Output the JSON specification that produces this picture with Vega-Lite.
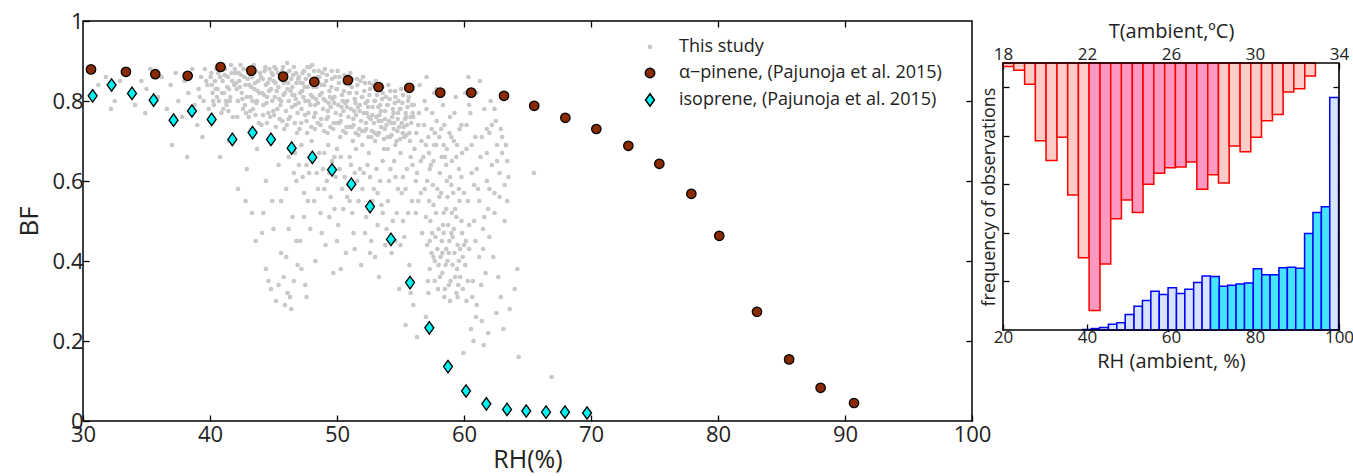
{
  "$schema": "https://vega.github.io/schema/vega-lite/v6.json",
  "padding": {"left": 15, "top": 9, "right": 0, "bottom": 0},
  "spacing": -12,
  "config": {
    "font": "Open Sans",
    "view": {"stroke": "#000", "strokeWidth": 1.5},
    "axis": {
      "domain": false,
      "grid": false,
      "tickColor": "#000",
      "tickWidth": 1.3,
      "tickSize": -6,
      "labelFlush": false,
      "labelColor": "#222",
      "titleColor": "#222",
      "titleFontWeight": "normal",
      "labelFont": "Open Sans",
      "titleFont": "Open Sans"
    }
  },
  "datasets": {
    "study": [
      {"rh":31.2,"bf":0.84},{"rh":31.8,"bf":0.86},{"rh":32.5,"bf":0.80},{"rh":32.9,"bf":0.85},{"rh":33.4,"bf":0.87},{"rh":33.8,"bf":0.82},
      {"rh":34.1,"bf":0.79},{"rh":34.6,"bf":0.85},{"rh":35.0,"bf":0.83},{"rh":35.3,"bf":0.88},{"rh":35.9,"bf":0.81},{"rh":36.2,"bf":0.86},
      {"rh":36.6,"bf":0.78},{"rh":36.9,"bf":0.84},{"rh":37.3,"bf":0.87},{"rh":37.5,"bf":0.80},{"rh":37.8,"bf":0.76},{"rh":38.0,"bf":0.85},
      {"rh":38.3,"bf":0.82},{"rh":38.6,"bf":0.88},{"rh":38.8,"bf":0.79},{"rh":39.0,"bf":0.74},{"rh":32.2,"bf":0.78},{"rh":34.9,"bf":0.77},
      {"rh":37.0,"bf":0.69},{"rh":39.4,"bf":0.71},{"rh":38.2,"bf":0.66},
      {"rh":39.1,"bf":0.83},{"rh":39.3,"bf":0.86},{"rh":39.5,"bf":0.80},{"rh":39.6,"bf":0.88},{"rh":39.8,"bf":0.84},{"rh":39.9,"bf":0.78},
      {"rh":39.2,"bf":0.81},{"rh":39.7,"bf":0.85},
      {"rh":40.1,"bf":0.87},{"rh":40.2,"bf":0.82},{"rh":40.3,"bf":0.79},{"rh":40.4,"bf":0.85},{"rh":40.5,"bf":0.88},{"rh":40.6,"bf":0.83},
      {"rh":40.7,"bf":0.80},{"rh":40.8,"bf":0.86},{"rh":40.9,"bf":0.77},{"rh":40.15,"bf":0.84},{"rh":40.55,"bf":0.81},{"rh":40.85,"bf":0.89},
      {"rh":40.05,"bf":0.86},{"rh":40.25,"bf":0.80},{"rh":40.45,"bf":0.83},{"rh":40.65,"bf":0.87},{"rh":40.95,"bf":0.82},
      {"rh":41.0,"bf":0.85},{"rh":41.1,"bf":0.82},{"rh":41.2,"bf":0.88},{"rh":41.3,"bf":0.79},{"rh":41.4,"bf":0.86},{"rh":41.5,"bf":0.83},
      {"rh":41.6,"bf":0.81},{"rh":41.7,"bf":0.87},{"rh":41.8,"bf":0.76},{"rh":41.9,"bf":0.84},{"rh":41.25,"bf":0.80},{"rh":41.65,"bf":0.89},
      {"rh":41.45,"bf":0.775},{"rh":41.05,"bf":0.78},{"rh":41.15,"bf":0.865},{"rh":41.35,"bf":0.835},{"rh":41.55,"bf":0.80},{"rh":41.75,"bf":0.85},
      {"rh":41.95,"bf":0.88},
      {"rh":42.0,"bf":0.87},{"rh":42.1,"bf":0.83},{"rh":42.2,"bf":0.80},{"rh":42.3,"bf":0.85},{"rh":42.4,"bf":0.89},{"rh":42.5,"bf":0.82},
      {"rh":42.6,"bf":0.78},{"rh":42.7,"bf":0.86},{"rh":42.8,"bf":0.84},{"rh":42.9,"bf":0.81},{"rh":42.15,"bf":0.76},{"rh":42.45,"bf":0.865},
      {"rh":42.75,"bf":0.79},{"rh":42.35,"bf":0.835},{"rh":42.05,"bf":0.845},{"rh":42.25,"bf":0.87},{"rh":42.55,"bf":0.805},{"rh":42.65,"bf":0.88},
      {"rh":42.85,"bf":0.77},{"rh":42.95,"bf":0.855},
      {"rh":43.0,"bf":0.88},{"rh":43.1,"bf":0.84},{"rh":43.2,"bf":0.81},{"rh":43.3,"bf":0.86},{"rh":43.4,"bf":0.78},{"rh":43.5,"bf":0.83},
      {"rh":43.6,"bf":0.875},{"rh":43.7,"bf":0.80},{"rh":43.8,"bf":0.85},{"rh":43.9,"bf":0.82},{"rh":43.05,"bf":0.76},{"rh":43.45,"bf":0.89},
      {"rh":43.65,"bf":0.795},{"rh":43.85,"bf":0.745},{"rh":43.25,"bf":0.835},{"rh":43.15,"bf":0.865},{"rh":43.35,"bf":0.80},{"rh":43.55,"bf":0.845},
      {"rh":43.75,"bf":0.825},{"rh":43.95,"bf":0.87},{"rh":43.18,"bf":0.775},{"rh":43.58,"bf":0.765},
      {"rh":44.0,"bf":0.86},{"rh":44.1,"bf":0.82},{"rh":44.2,"bf":0.79},{"rh":44.3,"bf":0.875},{"rh":44.4,"bf":0.84},{"rh":44.5,"bf":0.81},
      {"rh":44.6,"bf":0.77},{"rh":44.7,"bf":0.855},{"rh":44.8,"bf":0.83},{"rh":44.9,"bf":0.80},{"rh":44.05,"bf":0.74},{"rh":44.35,"bf":0.885},
      {"rh":44.55,"bf":0.845},{"rh":44.75,"bf":0.76},{"rh":44.85,"bf":0.87},{"rh":44.25,"bf":0.815},{"rh":44.15,"bf":0.855},{"rh":44.45,"bf":0.795},
      {"rh":44.65,"bf":0.825},{"rh":44.95,"bf":0.865},{"rh":44.18,"bf":0.765},{"rh":44.48,"bf":0.745},{"rh":44.98,"bf":0.775},{"rh":44.68,"bf":0.88},
      {"rh":45.0,"bf":0.85},{"rh":45.1,"bf":0.81},{"rh":45.2,"bf":0.88},{"rh":45.3,"bf":0.78},{"rh":45.4,"bf":0.835},{"rh":45.5,"bf":0.86},
      {"rh":45.6,"bf":0.80},{"rh":45.7,"bf":0.75},{"rh":45.8,"bf":0.845},{"rh":45.9,"bf":0.82},{"rh":45.05,"bf":0.765},{"rh":45.35,"bf":0.87},
      {"rh":45.55,"bf":0.79},{"rh":45.75,"bf":0.885},{"rh":45.85,"bf":0.73},{"rh":45.25,"bf":0.825},{"rh":45.65,"bf":0.855},{"rh":45.15,"bf":0.845},
      {"rh":45.45,"bf":0.805},{"rh":45.95,"bf":0.865},{"rh":45.18,"bf":0.735},{"rh":45.48,"bf":0.755},{"rh":45.98,"bf":0.775},{"rh":45.68,"bf":0.875},
      {"rh":45.08,"bf":0.885},{"rh":45.78,"bf":0.815},
      {"rh":46.0,"bf":0.87},{"rh":46.1,"bf":0.83},{"rh":46.2,"bf":0.80},{"rh":46.3,"bf":0.76},{"rh":46.4,"bf":0.855},{"rh":46.5,"bf":0.815},
      {"rh":46.6,"bf":0.885},{"rh":46.7,"bf":0.79},{"rh":46.8,"bf":0.845},{"rh":46.9,"bf":0.77},{"rh":46.05,"bf":0.74},{"rh":46.35,"bf":0.825},
      {"rh":46.55,"bf":0.865},{"rh":46.75,"bf":0.805},{"rh":46.85,"bf":0.72},{"rh":46.25,"bf":0.875},{"rh":46.45,"bf":0.785},{"rh":46.15,"bf":0.845},
      {"rh":46.48,"bf":0.835},{"rh":46.65,"bf":0.815},{"rh":46.95,"bf":0.855},{"rh":46.18,"bf":0.755},{"rh":46.68,"bf":0.745},{"rh":46.98,"bf":0.795},
      {"rh":46.08,"bf":0.895},{"rh":46.78,"bf":0.87},
      {"rh":47.0,"bf":0.86},{"rh":47.1,"bf":0.82},{"rh":47.2,"bf":0.78},{"rh":47.3,"bf":0.845},{"rh":47.4,"bf":0.875},{"rh":47.5,"bf":0.80},
      {"rh":47.6,"bf":0.75},{"rh":47.7,"bf":0.835},{"rh":47.8,"bf":0.865},{"rh":47.9,"bf":0.79},{"rh":47.05,"bf":0.73},{"rh":47.35,"bf":0.81},
      {"rh":47.55,"bf":0.855},{"rh":47.75,"bf":0.77},{"rh":47.85,"bf":0.885},{"rh":47.25,"bf":0.825},{"rh":47.65,"bf":0.72},{"rh":47.15,"bf":0.845},
      {"rh":47.45,"bf":0.835},{"rh":47.95,"bf":0.815},{"rh":47.18,"bf":0.745},{"rh":47.48,"bf":0.765},{"rh":47.98,"bf":0.735},{"rh":47.68,"bf":0.885},
      {"rh":47.28,"bf":0.87},{"rh":47.78,"bf":0.80},
      {"rh":48.0,"bf":0.85},{"rh":48.1,"bf":0.81},{"rh":48.2,"bf":0.875},{"rh":48.3,"bf":0.77},{"rh":48.4,"bf":0.835},{"rh":48.5,"bf":0.795},
      {"rh":48.6,"bf":0.86},{"rh":48.7,"bf":0.74},{"rh":48.8,"bf":0.82},{"rh":48.9,"bf":0.78},{"rh":48.05,"bf":0.89},{"rh":48.35,"bf":0.805},
      {"rh":48.55,"bf":0.845},{"rh":48.75,"bf":0.755},{"rh":48.85,"bf":0.87},{"rh":48.25,"bf":0.73},{"rh":48.65,"bf":0.815},{"rh":48.15,"bf":0.835},
      {"rh":48.45,"bf":0.86},{"rh":48.95,"bf":0.805},{"rh":48.18,"bf":0.76},{"rh":48.48,"bf":0.745},{"rh":48.98,"bf":0.725},{"rh":48.58,"bf":0.875},
      {"rh":48.28,"bf":0.79},{"rh":48.78,"bf":0.84},
      {"rh":49.0,"bf":0.84},{"rh":49.1,"bf":0.80},{"rh":49.2,"bf":0.865},{"rh":49.3,"bf":0.76},{"rh":49.4,"bf":0.825},{"rh":49.5,"bf":0.785},
      {"rh":49.6,"bf":0.855},{"rh":49.7,"bf":0.73},{"rh":49.8,"bf":0.81},{"rh":49.9,"bf":0.77},{"rh":49.05,"bf":0.88},{"rh":49.35,"bf":0.795},
      {"rh":49.55,"bf":0.835},{"rh":49.75,"bf":0.745},{"rh":49.85,"bf":0.86},{"rh":49.25,"bf":0.72},{"rh":49.65,"bf":0.805},{"rh":49.15,"bf":0.85},
      {"rh":49.45,"bf":0.81},{"rh":49.95,"bf":0.83},{"rh":49.18,"bf":0.755},{"rh":49.48,"bf":0.735},{"rh":49.98,"bf":0.745},{"rh":49.58,"bf":0.875},
      {"rh":49.28,"bf":0.775},{"rh":49.78,"bf":0.795},
      {"rh":50.0,"bf":0.83},{"rh":50.1,"bf":0.79},{"rh":50.2,"bf":0.86},{"rh":50.3,"bf":0.75},{"rh":50.4,"bf":0.815},{"rh":50.5,"bf":0.775},
      {"rh":50.6,"bf":0.845},{"rh":50.7,"bf":0.72},{"rh":50.8,"bf":0.80},{"rh":50.9,"bf":0.76},{"rh":50.05,"bf":0.875},{"rh":50.35,"bf":0.785},
      {"rh":50.55,"bf":0.825},{"rh":50.75,"bf":0.735},{"rh":50.85,"bf":0.855},{"rh":50.25,"bf":0.71},{"rh":50.65,"bf":0.795},{"rh":50.15,"bf":0.845},
      {"rh":50.45,"bf":0.80},{"rh":50.95,"bf":0.82},{"rh":50.18,"bf":0.745},{"rh":50.48,"bf":0.725},{"rh":50.98,"bf":0.735},{"rh":50.58,"bf":0.865},
      {"rh":50.28,"bf":0.765},{"rh":50.78,"bf":0.785},
      {"rh":51.0,"bf":0.82},{"rh":51.1,"bf":0.78},{"rh":51.2,"bf":0.855},{"rh":51.3,"bf":0.74},{"rh":51.4,"bf":0.805},{"rh":51.5,"bf":0.765},
      {"rh":51.6,"bf":0.84},{"rh":51.7,"bf":0.715},{"rh":51.8,"bf":0.79},{"rh":51.9,"bf":0.75},{"rh":51.05,"bf":0.87},{"rh":51.35,"bf":0.775},
      {"rh":51.55,"bf":0.82},{"rh":51.75,"bf":0.73},{"rh":51.85,"bf":0.85},{"rh":51.25,"bf":0.70},{"rh":51.65,"bf":0.785},{"rh":51.15,"bf":0.835},
      {"rh":51.45,"bf":0.795},{"rh":51.95,"bf":0.81},{"rh":51.18,"bf":0.735},{"rh":51.48,"bf":0.72},{"rh":51.98,"bf":0.725},{"rh":51.58,"bf":0.855},
      {"rh":51.28,"bf":0.755},{"rh":51.78,"bf":0.775},
      {"rh":52.0,"bf":0.81},{"rh":52.1,"bf":0.77},{"rh":52.2,"bf":0.845},{"rh":52.3,"bf":0.73},{"rh":52.4,"bf":0.80},{"rh":52.5,"bf":0.76},
      {"rh":52.6,"bf":0.83},{"rh":52.7,"bf":0.71},{"rh":52.8,"bf":0.785},{"rh":52.9,"bf":0.745},{"rh":52.05,"bf":0.86},{"rh":52.35,"bf":0.77},
      {"rh":52.55,"bf":0.815},{"rh":52.75,"bf":0.725},{"rh":52.85,"bf":0.84},{"rh":52.25,"bf":0.795},{"rh":52.65,"bf":0.755},{"rh":52.15,"bf":0.825},
      {"rh":52.45,"bf":0.785},{"rh":52.95,"bf":0.80},{"rh":52.18,"bf":0.725},{"rh":52.48,"bf":0.71},{"rh":52.98,"bf":0.72},{"rh":52.58,"bf":0.845},
      {"rh":52.28,"bf":0.745},{"rh":52.78,"bf":0.765},
      {"rh":53.0,"bf":0.80},{"rh":53.1,"bf":0.76},{"rh":53.2,"bf":0.835},{"rh":53.3,"bf":0.72},{"rh":53.4,"bf":0.79},{"rh":53.5,"bf":0.75},
      {"rh":53.6,"bf":0.82},{"rh":53.7,"bf":0.705},{"rh":53.8,"bf":0.775},{"rh":53.9,"bf":0.74},{"rh":53.05,"bf":0.85},{"rh":53.35,"bf":0.765},
      {"rh":53.55,"bf":0.805},{"rh":53.75,"bf":0.73},{"rh":53.85,"bf":0.81},{"rh":53.25,"bf":0.785},{"rh":53.15,"bf":0.815},{"rh":53.45,"bf":0.775},
      {"rh":53.95,"bf":0.79},{"rh":53.18,"bf":0.715},{"rh":53.48,"bf":0.735},{"rh":53.98,"bf":0.71},{"rh":53.58,"bf":0.835},{"rh":53.28,"bf":0.75},
      {"rh":53.78,"bf":0.755},
      {"rh":54.0,"bf":0.79},{"rh":54.1,"bf":0.75},{"rh":54.2,"bf":0.825},{"rh":54.3,"bf":0.715},{"rh":54.4,"bf":0.78},{"rh":54.5,"bf":0.745},
      {"rh":54.6,"bf":0.81},{"rh":54.7,"bf":0.70},{"rh":54.8,"bf":0.77},{"rh":54.9,"bf":0.735},{"rh":54.05,"bf":0.84},{"rh":54.35,"bf":0.76},
      {"rh":54.55,"bf":0.795},{"rh":54.75,"bf":0.725},{"rh":54.85,"bf":0.80},{"rh":54.15,"bf":0.805},{"rh":54.45,"bf":0.77},{"rh":54.95,"bf":0.78},
      {"rh":54.18,"bf":0.71},{"rh":54.48,"bf":0.73},{"rh":54.98,"bf":0.705},{"rh":54.58,"bf":0.825},{"rh":54.28,"bf":0.745},{"rh":54.78,"bf":0.755},
      {"rh":55.0,"bf":0.78},{"rh":55.1,"bf":0.745},{"rh":55.2,"bf":0.815},{"rh":55.3,"bf":0.71},{"rh":55.4,"bf":0.77},{"rh":55.5,"bf":0.74},
      {"rh":55.6,"bf":0.80},{"rh":55.7,"bf":0.72},{"rh":55.8,"bf":0.76},{"rh":55.9,"bf":0.79},{"rh":55.05,"bf":0.83},{"rh":55.35,"bf":0.755},
      {"rh":55.55,"bf":0.785},{"rh":55.75,"bf":0.70},{"rh":55.15,"bf":0.795},{"rh":55.45,"bf":0.76},{"rh":55.95,"bf":0.77},{"rh":55.18,"bf":0.72},
      {"rh":55.48,"bf":0.715},{"rh":55.65,"bf":0.81},{"rh":55.25,"bf":0.735},{"rh":55.85,"bf":0.745},
      {"rh":56.05,"bf":0.79},{"rh":56.25,"bf":0.72},{"rh":56.45,"bf":0.77},{"rh":56.65,"bf":0.70},{"rh":56.85,"bf":0.74},{"rh":57.05,"bf":0.78},
      {"rh":57.25,"bf":0.67},{"rh":57.45,"bf":0.73},{"rh":57.65,"bf":0.69},{"rh":57.85,"bf":0.75},{"rh":58.05,"bf":0.71},{"rh":58.25,"bf":0.66},
      {"rh":58.45,"bf":0.74},{"rh":58.65,"bf":0.68},{"rh":58.85,"bf":0.72},{"rh":59.05,"bf":0.65},{"rh":59.25,"bf":0.77},{"rh":59.45,"bf":0.69},
      {"rh":59.65,"bf":0.73},{"rh":59.85,"bf":0.67},
      {"rh":56.1,"bf":0.68},{"rh":56.3,"bf":0.62},{"rh":56.4,"bf":0.74},{"rh":56.6,"bf":0.57},{"rh":56.8,"bf":0.66},{"rh":56.9,"bf":0.80},
      {"rh":57.0,"bf":0.51},{"rh":57.1,"bf":0.60},{"rh":57.2,"bf":0.71},{"rh":57.3,"bf":0.45},{"rh":57.4,"bf":0.64},{"rh":57.5,"bf":0.77},
      {"rh":57.6,"bf":0.54},{"rh":57.7,"bf":0.40},{"rh":57.8,"bf":0.69},{"rh":57.9,"bf":0.58},{"rh":58.0,"bf":0.48},{"rh":58.1,"bf":0.62},
      {"rh":58.2,"bf":0.73},{"rh":58.3,"bf":0.37},{"rh":58.4,"bf":0.52},{"rh":58.5,"bf":0.66},{"rh":58.6,"bf":0.43},{"rh":58.7,"bf":0.56},
      {"rh":58.8,"bf":0.34},{"rh":58.9,"bf":0.61},{"rh":59.0,"bf":0.47},{"rh":59.1,"bf":0.39},{"rh":59.2,"bf":0.70},{"rh":59.3,"bf":0.53},
      {"rh":59.4,"bf":0.32},{"rh":59.5,"bf":0.44},{"rh":59.6,"bf":0.63},{"rh":59.7,"bf":0.36},{"rh":59.8,"bf":0.50},{"rh":59.9,"bf":0.41},
      {"rh":58.45,"bf":0.31},{"rh":58.95,"bf":0.35},{"rh":59.45,"bf":0.38},{"rh":57.95,"bf":0.33},{"rh":57.45,"bf":0.42},{"rh":58.25,"bf":0.45},
      {"rh":59.15,"bf":0.57},{"rh":58.75,"bf":0.49},{"rh":59.65,"bf":0.55},{"rh":57.15,"bf":0.35},{"rh":56.7,"bf":0.47},{"rh":56.2,"bf":0.52},
      {"rh":57.35,"bf":0.50},{"rh":57.75,"bf":0.46},{"rh":58.15,"bf":0.41},{"rh":58.55,"bf":0.39},{"rh":58.85,"bf":0.45},{"rh":59.25,"bf":0.42},
      {"rh":59.55,"bf":0.34},{"rh":59.85,"bf":0.47},{"rh":58.05,"bf":0.56},{"rh":58.65,"bf":0.60},{"rh":57.55,"bf":0.59},{"rh":59.05,"bf":0.52},
      {"rh":58.35,"bf":0.49},{"rh":57.25,"bf":0.55},
      {"rh":57.1,"bf":0.44},{"rh":57.3,"bf":0.38},{"rh":57.5,"bf":0.47},{"rh":57.7,"bf":0.35},{"rh":57.9,"bf":0.43},{"rh":58.1,"bf":0.36},
      {"rh":58.3,"bf":0.42},{"rh":58.5,"bf":0.33},{"rh":58.7,"bf":0.40},{"rh":58.9,"bf":0.30},{"rh":59.1,"bf":0.46},{"rh":59.3,"bf":0.36},
      {"rh":59.5,"bf":0.31},{"rh":59.7,"bf":0.43},{"rh":59.9,"bf":0.33},{"rh":60.1,"bf":0.39},{"rh":60.3,"bf":0.35},{"rh":57.2,"bf":0.32},
      {"rh":57.6,"bf":0.41},{"rh":58.0,"bf":0.39},{"rh":58.4,"bf":0.47},{"rh":58.8,"bf":0.42},{"rh":59.2,"bf":0.48},{"rh":59.6,"bf":0.40},
      {"rh":60.0,"bf":0.44},{"rh":60.2,"bf":0.30},{"rh":57.8,"bf":0.52},{"rh":58.6,"bf":0.53},{"rh":59.4,"bf":0.51},{"rh":60.4,"bf":0.49},
      {"rh":56.2,"bf":0.60},{"rh":56.6,"bf":0.65},{"rh":56.9,"bf":0.58},{"rh":57.3,"bf":0.63},{"rh":57.7,"bf":0.72},{"rh":58.2,"bf":0.57},
      {"rh":58.6,"bf":0.64},{"rh":59.0,"bf":0.59},{"rh":59.4,"bf":0.66},{"rh":59.8,"bf":0.61},{"rh":60.2,"bf":0.74},{"rh":60.6,"bf":0.69},
      {"rh":61.0,"bf":0.63},{"rh":61.4,"bf":0.71},{"rh":61.8,"bf":0.67},{"rh":62.2,"bf":0.74},{"rh":62.6,"bf":0.65},{"rh":63.0,"bf":0.71},
      {"rh":63.3,"bf":0.69},{"rh":60.4,"bf":0.79},{"rh":61.0,"bf":0.82},{"rh":61.8,"bf":0.73},{"rh":62.4,"bf":0.78},{"rh":56.4,"bf":0.55},
      {"rh":57.0,"bf":0.69},{"rh":57.6,"bf":0.65},{"rh":58.4,"bf":0.69},{"rh":59.0,"bf":0.71},{"rh":59.6,"bf":0.58},{"rh":60.0,"bf":0.57},
      {"rh":60.8,"bf":0.59},{"rh":61.2,"bf":0.55},{"rh":61.6,"bf":0.51},{"rh":62.0,"bf":0.58},{"rh":62.4,"bf":0.52},{"rh":62.8,"bf":0.56},
      {"rh":63.2,"bf":0.50},{"rh":63.4,"bf":0.55},{"rh":60.9,"bf":0.45},{"rh":61.5,"bf":0.43},{"rh":62.0,"bf":0.46},{"rh":62.3,"bf":0.41},
      {"rh":57.85,"bf":0.83},{"rh":58.35,"bf":0.79},{"rh":58.9,"bf":0.76},{"rh":59.35,"bf":0.81},{"rh":59.8,"bf":0.74},{"rh":60.1,"bf":0.82},
      {"rh":60.2,"bf":0.68},{"rh":60.3,"bf":0.55},{"rh":60.4,"bf":0.43},{"rh":60.5,"bf":0.77},{"rh":60.6,"bf":0.62},{"rh":60.7,"bf":0.35},
      {"rh":60.8,"bf":0.50},{"rh":60.9,"bf":0.71},{"rh":61.0,"bf":0.29},{"rh":61.1,"bf":0.58},{"rh":61.2,"bf":0.41},{"rh":61.3,"bf":0.66},
      {"rh":61.4,"bf":0.25},{"rh":61.5,"bf":0.48},{"rh":61.6,"bf":0.78},{"rh":61.7,"bf":0.37},{"rh":61.8,"bf":0.60},{"rh":61.9,"bf":0.53},
      {"rh":62.0,"bf":0.72},{"rh":62.2,"bf":0.64},{"rh":62.4,"bf":0.57},{"rh":62.6,"bf":0.69},{"rh":62.8,"bf":0.62},{"rh":63.0,"bf":0.67},
      {"rh":63.2,"bf":0.59},{"rh":63.4,"bf":0.65},{"rh":63.5,"bf":0.61},{"rh":62.1,"bf":0.80},{"rh":62.5,"bf":0.75},{"rh":62.9,"bf":0.73},
      {"rh":61.25,"bf":0.85},{"rh":60.35,"bf":0.86},{"rh":62.7,"bf":0.36},{"rh":62.9,"bf":0.31},{"rh":63.1,"bf":0.23},{"rh":62.55,"bf":0.27},
      {"rh":61.55,"bf":0.19},{"rh":61.9,"bf":0.22},{"rh":60.75,"bf":0.20},{"rh":60.95,"bf":0.26},{"rh":59.95,"bf":0.17},{"rh":60.55,"bf":0.23},
      {"rh":56.5,"bf":0.84},{"rh":57.05,"bf":0.86},{"rh":57.65,"bf":0.82},{"rh":56.0,"bf":0.76},{"rh":55.95,"bf":0.64},{"rh":60.15,"bf":0.45},
      {"rh":60.65,"bf":0.31},{"rh":61.35,"bf":0.34},
      {"rh":40.8,"bf":0.66},{"rh":41.5,"bf":0.70},{"rh":42.2,"bf":0.58},{"rh":42.9,"bf":0.63},{"rh":43.3,"bf":0.52},{"rh":43.7,"bf":0.68},
      {"rh":44.1,"bf":0.47},{"rh":44.4,"bf":0.60},{"rh":44.8,"bf":0.33},{"rh":44.9,"bf":0.55},{"rh":45.2,"bf":0.30},{"rh":45.4,"bf":0.64},
      {"rh":45.6,"bf":0.42},{"rh":45.8,"bf":0.36},{"rh":46.0,"bf":0.58},{"rh":46.3,"bf":0.31},{"rh":46.5,"bf":0.51},{"rh":46.7,"bf":0.67},
      {"rh":46.9,"bf":0.39},{"rh":47.1,"bf":0.45},{"rh":47.3,"bf":0.61},{"rh":47.5,"bf":0.34},{"rh":47.7,"bf":0.55},{"rh":47.9,"bf":0.48},
      {"rh":48.1,"bf":0.66},{"rh":48.3,"bf":0.40},{"rh":48.5,"bf":0.58},{"rh":48.7,"bf":0.52},{"rh":48.9,"bf":0.63},{"rh":49.1,"bf":0.44},
      {"rh":49.3,"bf":0.69},{"rh":49.5,"bf":0.56},{"rh":49.7,"bf":0.37},{"rh":49.9,"bf":0.61},{"rh":50.1,"bf":0.49},{"rh":50.3,"bf":0.66},
      {"rh":50.5,"bf":0.53},{"rh":50.7,"bf":0.42},{"rh":50.9,"bf":0.59},{"rh":51.1,"bf":0.64},{"rh":51.3,"bf":0.47},{"rh":51.5,"bf":0.68},
      {"rh":51.7,"bf":0.55},{"rh":51.9,"bf":0.39},{"rh":52.1,"bf":0.62},{"rh":52.3,"bf":0.51},{"rh":52.5,"bf":0.67},{"rh":52.7,"bf":0.45},
      {"rh":52.9,"bf":0.58},{"rh":53.1,"bf":0.63},{"rh":53.3,"bf":0.36},{"rh":53.5,"bf":0.54},{"rh":53.7,"bf":0.68},{"rh":53.9,"bf":0.48},
      {"rh":54.1,"bf":0.60},{"rh":54.3,"bf":0.42},{"rh":54.5,"bf":0.65},{"rh":54.7,"bf":0.52},{"rh":54.9,"bf":0.33},{"rh":55.1,"bf":0.57},
      {"rh":55.3,"bf":0.46},{"rh":55.5,"bf":0.63},{"rh":55.7,"bf":0.39},{"rh":55.9,"bf":0.55},{"rh":45.9,"bf":0.29},{"rh":46.1,"bf":0.32},
      {"rh":46.4,"bf":0.28},{"rh":44.6,"bf":0.35},{"rh":50.3,"bf":0.38},{"rh":53.0,"bf":0.41},{"rh":56.0,"bf":0.29},{"rh":55.4,"bf":0.24},
      {"rh":56.3,"bf":0.21},{"rh":57.0,"bf":0.26},{"rh":55.8,"bf":0.32},
      {"rh":47.2,"bf":0.69},{"rh":48.0,"bf":0.70},{"rh":49.0,"bf":0.67},{"rh":50.0,"bf":0.68},{"rh":51.0,"bf":0.66},{"rh":52.0,"bf":0.69},
      {"rh":53.0,"bf":0.70},{"rh":54.0,"bf":0.68},{"rh":55.0,"bf":0.67},{"rh":49.6,"bf":0.65},{"rh":51.4,"bf":0.62},{"rh":53.6,"bf":0.65},
      {"rh":54.6,"bf":0.69},
      {"rh":48.4,"bf":0.62},{"rh":49.2,"bf":0.60},{"rh":50.2,"bf":0.63},{"rh":50.8,"bf":0.56},{"rh":51.6,"bf":0.60},{"rh":52.4,"bf":0.64},
      {"rh":52.8,"bf":0.55},{"rh":53.4,"bf":0.60},{"rh":54.2,"bf":0.63},{"rh":54.8,"bf":0.58},{"rh":55.2,"bf":0.61},{"rh":55.6,"bf":0.52},
      {"rh":49.8,"bf":0.53},{"rh":51.2,"bf":0.52},{"rh":52.2,"bf":0.47},{"rh":53.8,"bf":0.44},{"rh":54.4,"bf":0.50},{"rh":55.0,"bf":0.44},
      {"rh":47.6,"bf":0.64},{"rh":46.6,"bf":0.62},
      {"rh":46.2,"bf":0.66},{"rh":46.8,"bf":0.60},{"rh":47.0,"bf":0.64},{"rh":47.4,"bf":0.57},{"rh":47.8,"bf":0.62},{"rh":48.2,"bf":0.55},
      {"rh":48.6,"bf":0.67},{"rh":49.0,"bf":0.58},{"rh":49.4,"bf":0.62},{"rh":49.8,"bf":0.66},{"rh":50.4,"bf":0.58},{"rh":50.6,"bf":0.61},
      {"rh":51.0,"bf":0.55},{"rh":51.8,"bf":0.63},{"rh":52.0,"bf":0.58},{"rh":52.6,"bf":0.61},{"rh":53.2,"bf":0.57},{"rh":53.6,"bf":0.52},
      {"rh":54.0,"bf":0.55},{"rh":54.6,"bf":0.61},{"rh":55.4,"bf":0.58},{"rh":55.8,"bf":0.66},{"rh":48.8,"bf":0.47},{"rh":50.0,"bf":0.45},
      {"rh":51.4,"bf":0.43},{"rh":52.6,"bf":0.42},{"rh":53.2,"bf":0.49},{"rh":54.6,"bf":0.45},{"rh":55.2,"bf":0.50},{"rh":49.4,"bf":0.51},
      {"rh":47.4,"bf":0.51},{"rh":46.2,"bf":0.48},
      {"rh":42.8,"bf":0.55},{"rh":43.6,"bf":0.45},{"rh":44.2,"bf":0.52},{"rh":45.0,"bf":0.48},{"rh":45.6,"bf":0.55},{"rh":46.0,"bf":0.41},
      {"rh":46.8,"bf":0.45},{"rh":47.2,"bf":0.38},{"rh":44.4,"bf":0.38},{"rh":45.4,"bf":0.34},{"rh":46.6,"bf":0.35},{"rh":47.6,"bf":0.31},
      {"rh":64.3,"bf":0.16},{"rh":66.9,"bf":0.11},{"rh":65.5,"bf":0.62},{"rh":63.6,"bf":0.28},{"rh":64.0,"bf":0.33},{"rh":64.2,"bf":0.38}
    ],
    "ref": [
      {"series":"α−pinene, (Pajunoja et al. 2015)","rh":30.63,"bf":0.879},
      {"series":"α−pinene, (Pajunoja et al. 2015)","rh":33.38,"bf":0.873},
      {"series":"α−pinene, (Pajunoja et al. 2015)","rh":35.69,"bf":0.867},
      {"series":"α−pinene, (Pajunoja et al. 2015)","rh":38.24,"bf":0.863},
      {"series":"α−pinene, (Pajunoja et al. 2015)","rh":40.83,"bf":0.885},
      {"series":"α−pinene, (Pajunoja et al. 2015)","rh":43.25,"bf":0.876},
      {"series":"α−pinene, (Pajunoja et al. 2015)","rh":45.76,"bf":0.861},
      {"series":"α−pinene, (Pajunoja et al. 2015)","rh":48.21,"bf":0.848},
      {"series":"α−pinene, (Pajunoja et al. 2015)","rh":50.86,"bf":0.852},
      {"series":"α−pinene, (Pajunoja et al. 2015)","rh":53.27,"bf":0.835},
      {"series":"α−pinene, (Pajunoja et al. 2015)","rh":55.69,"bf":0.833},
      {"series":"α−pinene, (Pajunoja et al. 2015)","rh":58.13,"bf":0.821},
      {"series":"α−pinene, (Pajunoja et al. 2015)","rh":60.57,"bf":0.821},
      {"series":"α−pinene, (Pajunoja et al. 2015)","rh":63.15,"bf":0.813},
      {"series":"α−pinene, (Pajunoja et al. 2015)","rh":65.53,"bf":0.788},
      {"series":"α−pinene, (Pajunoja et al. 2015)","rh":67.98,"bf":0.758},
      {"series":"α−pinene, (Pajunoja et al. 2015)","rh":70.42,"bf":0.73},
      {"series":"α−pinene, (Pajunoja et al. 2015)","rh":72.94,"bf":0.688},
      {"series":"α−pinene, (Pajunoja et al. 2015)","rh":75.38,"bf":0.643},
      {"series":"α−pinene, (Pajunoja et al. 2015)","rh":77.9,"bf":0.568},
      {"series":"α−pinene, (Pajunoja et al. 2015)","rh":80.1,"bf":0.463},
      {"series":"α−pinene, (Pajunoja et al. 2015)","rh":83.07,"bf":0.273},
      {"series":"α−pinene, (Pajunoja et al. 2015)","rh":85.6,"bf":0.154},
      {"series":"α−pinene, (Pajunoja et al. 2015)","rh":88.08,"bf":0.083},
      {"series":"α−pinene, (Pajunoja et al. 2015)","rh":90.71,"bf":0.045},
      {"series":"isoprene, (Pajunoja et al. 2015)","rh":30.76,"bf":0.813},
      {"series":"isoprene, (Pajunoja et al. 2015)","rh":32.25,"bf":0.84},
      {"series":"isoprene, (Pajunoja et al. 2015)","rh":33.86,"bf":0.819},
      {"series":"isoprene, (Pajunoja et al. 2015)","rh":35.56,"bf":0.802},
      {"series":"isoprene, (Pajunoja et al. 2015)","rh":37.13,"bf":0.752},
      {"series":"isoprene, (Pajunoja et al. 2015)","rh":38.58,"bf":0.775},
      {"series":"isoprene, (Pajunoja et al. 2015)","rh":40.13,"bf":0.754},
      {"series":"isoprene, (Pajunoja et al. 2015)","rh":41.76,"bf":0.704},
      {"series":"isoprene, (Pajunoja et al. 2015)","rh":43.35,"bf":0.721},
      {"series":"isoprene, (Pajunoja et al. 2015)","rh":44.8,"bf":0.704},
      {"series":"isoprene, (Pajunoja et al. 2015)","rh":46.43,"bf":0.682},
      {"series":"isoprene, (Pajunoja et al. 2015)","rh":48.06,"bf":0.659},
      {"series":"isoprene, (Pajunoja et al. 2015)","rh":49.61,"bf":0.628},
      {"series":"isoprene, (Pajunoja et al. 2015)","rh":51.13,"bf":0.592},
      {"series":"isoprene, (Pajunoja et al. 2015)","rh":52.6,"bf":0.536},
      {"series":"isoprene, (Pajunoja et al. 2015)","rh":54.25,"bf":0.454},
      {"series":"isoprene, (Pajunoja et al. 2015)","rh":55.75,"bf":0.346},
      {"series":"isoprene, (Pajunoja et al. 2015)","rh":57.27,"bf":0.233},
      {"series":"isoprene, (Pajunoja et al. 2015)","rh":58.74,"bf":0.136},
      {"series":"isoprene, (Pajunoja et al. 2015)","rh":60.16,"bf":0.075},
      {"series":"isoprene, (Pajunoja et al. 2015)","rh":61.76,"bf":0.043},
      {"series":"isoprene, (Pajunoja et al. 2015)","rh":63.39,"bf":0.029},
      {"series":"isoprene, (Pajunoja et al. 2015)","rh":64.9,"bf":0.025},
      {"series":"isoprene, (Pajunoja et al. 2015)","rh":66.46,"bf":0.022},
      {"series":"isoprene, (Pajunoja et al. 2015)","rh":67.95,"bf":0.022},
      {"series":"isoprene, (Pajunoja et al. 2015)","rh":69.69,"bf":0.02}
    ],
    "t_hist": [
      {"t0":18.00,"t1":18.51,"n":7,"band":"outer"},{"t0":18.51,"t1":19.03,"n":15,"band":"outer"},
      {"t0":19.03,"t1":19.54,"n":44,"band":"outer"},{"t0":19.54,"t1":20.05,"n":160,"band":"outer"},
      {"t0":20.05,"t1":20.57,"n":201,"band":"outer"},{"t0":20.57,"t1":21.08,"n":153,"band":"outer"},
      {"t0":21.08,"t1":21.59,"n":272,"band":"outer"},{"t0":21.59,"t1":22.10,"n":401,"band":"outer"},
      {"t0":22.10,"t1":22.62,"n":510,"band":"mid"},{"t0":22.62,"t1":23.13,"n":414,"band":"mid"},
      {"t0":23.13,"t1":23.64,"n":321,"band":"mid"},{"t0":23.64,"t1":24.16,"n":282,"band":"mid"},
      {"t0":24.16,"t1":24.67,"n":308,"band":"mid"},{"t0":24.67,"t1":25.18,"n":250,"band":"mid"},
      {"t0":25.18,"t1":25.70,"n":227,"band":"mid"},{"t0":25.70,"t1":26.21,"n":216,"band":"mid"},
      {"t0":26.21,"t1":26.72,"n":214,"band":"mid"},{"t0":26.72,"t1":27.23,"n":204,"band":"mid"},
      {"t0":27.23,"t1":27.75,"n":260,"band":"mid"},{"t0":27.75,"t1":28.26,"n":230,"band":"mid"},
      {"t0":28.26,"t1":28.77,"n":247,"band":"outer"},{"t0":28.77,"t1":29.29,"n":171,"band":"outer"},
      {"t0":29.29,"t1":29.80,"n":183,"band":"outer"},{"t0":29.80,"t1":30.31,"n":153,"band":"outer"},
      {"t0":30.31,"t1":30.83,"n":119,"band":"outer"},{"t0":30.83,"t1":31.34,"n":106,"band":"outer"},
      {"t0":31.34,"t1":31.85,"n":60,"band":"outer"},{"t0":31.85,"t1":32.37,"n":53,"band":"outer"},
      {"t0":32.37,"t1":32.88,"n":27,"band":"outer"}
    ],
    "rh_hist": [
      {"r0":39.0,"r1":41.0,"n":1,"band":"outer"},{"r0":41.0,"r1":43.0,"n":3,"band":"outer"},
      {"r0":43.0,"r1":45.1,"n":5,"band":"outer"},{"r0":45.1,"r1":47.1,"n":12,"band":"outer"},
      {"r0":47.1,"r1":49.1,"n":15,"band":"outer"},{"r0":49.1,"r1":51.2,"n":32,"band":"outer"},
      {"r0":51.2,"r1":53.2,"n":49,"band":"outer"},{"r0":53.2,"r1":55.2,"n":61,"band":"outer"},
      {"r0":55.2,"r1":57.2,"n":80,"band":"outer"},{"r0":57.2,"r1":59.3,"n":73,"band":"outer"},
      {"r0":59.3,"r1":61.3,"n":87,"band":"outer"},{"r0":61.3,"r1":63.3,"n":75,"band":"outer"},
      {"r0":63.3,"r1":65.4,"n":84,"band":"outer"},{"r0":65.4,"r1":67.4,"n":98,"band":"outer"},
      {"r0":67.4,"r1":69.4,"n":111,"band":"outer"},{"r0":69.4,"r1":71.5,"n":110,"band":"mid"},
      {"r0":71.5,"r1":73.5,"n":90,"band":"mid"},{"r0":73.5,"r1":75.5,"n":92,"band":"mid"},
      {"r0":75.5,"r1":77.5,"n":95,"band":"mid"},{"r0":77.5,"r1":79.6,"n":97,"band":"mid"},
      {"r0":79.6,"r1":81.6,"n":126,"band":"mid"},{"r0":81.6,"r1":83.6,"n":114,"band":"mid"},
      {"r0":83.6,"r1":85.7,"n":114,"band":"mid"},{"r0":85.7,"r1":87.7,"n":128,"band":"mid"},
      {"r0":87.7,"r1":89.7,"n":129,"band":"mid"},{"r0":89.7,"r1":91.8,"n":127,"band":"mid"},
      {"r0":91.8,"r1":93.8,"n":199,"band":"mid"},{"r0":93.8,"r1":95.8,"n":242,"band":"mid"},
      {"r0":95.8,"r1":97.8,"n":254,"band":"mid"},{"r0":97.8,"r1":99.9,"n":479,"band":"outer"}
    ]
  },
  "hconcat": [
    {
      "width": 889,
      "height": 400,
      "layer": [
        {
          "data": {"name": "study"},
          "mark": {"type": "point", "filled": true, "opacity": 1, "strokeWidth": 1.3},
          "encoding": {
            "x": {
              "field": "rh", "type": "quantitative",
              "scale": {"domain": [30, 100], "nice": false, "zero": false},
              "axis": {"values": [30, 40, 50, 60, 70, 80, 90, 100], "title": "RH(%)", "labelFontSize": 22, "labelPadding": 9, "titleFontSize": 25, "titlePadding": 2}
            },
            "y": {
              "field": "bf", "type": "quantitative",
              "scale": {"domain": [0, 1], "nice": false},
              "axis": {"values": [0, 0.2, 0.4, 0.6, 0.8, 1], "format": "~g", "title": "BF", "labelFontSize": 22, "labelPadding": 6, "titleFontSize": 26, "titlePadding": 10}
            },
            "fill": {
              "datum": "This study",
              "scale": {"domain": ["This study", "α−pinene, (Pajunoja et al. 2015)", "isoprene, (Pajunoja et al. 2015)"], "range": ["#c8c8c8", "#8a2a00", "#00f2f2"]},
              "legend": {"title": null, "orient": "none", "legendX": 558, "legendY": 17, "labelFontSize": 18, "labelFont": "Open Sans", "labelColor": "#222", "rowPadding": 8, "labelOffset": 20, "padding": 0, "labelLimit": 0}
            },
            "stroke": {
              "datum": "This study",
              "scale": {"domain": ["This study", "α−pinene, (Pajunoja et al. 2015)", "isoprene, (Pajunoja et al. 2015)"], "range": ["rgba(0,0,0,0)", "#000000", "#000000"]}
            },
            "shape": {
              "datum": "This study",
              "scale": {"domain": ["This study", "α−pinene, (Pajunoja et al. 2015)", "isoprene, (Pajunoja et al. 2015)"], "range": ["circle", "circle", "M0,-1L0.72,0L0,1L-0.72,0Z"]}
            },
            "size": {
              "datum": "This study",
              "scale": {"domain": ["This study", "α−pinene, (Pajunoja et al. 2015)", "isoprene, (Pajunoja et al. 2015)"], "range": [22, 155, 260]}
            }
          }
        },
        {
          "data": {"name": "ref"},
          "mark": {"type": "point", "filled": true, "opacity": 1, "strokeWidth": 1.3},
          "encoding": {
            "x": {"field": "rh", "type": "quantitative", "scale": {"domain": [30, 100], "nice": false, "zero": false}, "axis": null},
            "y": {"field": "bf", "type": "quantitative", "scale": {"domain": [0, 1], "nice": false}, "axis": null},
            "fill": {
              "field": "series", "type": "nominal",
              "scale": {"domain": ["This study", "α−pinene, (Pajunoja et al. 2015)", "isoprene, (Pajunoja et al. 2015)"], "range": ["#c8c8c8", "#8a2a00", "#00f2f2"]},
              "legend": {"title": null, "orient": "none", "legendX": 558, "legendY": 17, "labelFontSize": 18, "labelFont": "Open Sans", "labelColor": "#222", "rowPadding": 8, "labelOffset": 20, "padding": 0, "labelLimit": 0}
            },
            "stroke": {
              "field": "series", "type": "nominal",
              "scale": {"domain": ["This study", "α−pinene, (Pajunoja et al. 2015)", "isoprene, (Pajunoja et al. 2015)"], "range": ["rgba(0,0,0,0)", "#000000", "#000000"]}
            },
            "shape": {
              "field": "series", "type": "nominal",
              "scale": {"domain": ["This study", "α−pinene, (Pajunoja et al. 2015)", "isoprene, (Pajunoja et al. 2015)"], "range": ["circle", "circle", "M0,-1L0.72,0L0,1L-0.72,0Z"]}
            },
            "size": {
              "field": "series", "type": "nominal",
              "scale": {"domain": ["This study", "α−pinene, (Pajunoja et al. 2015)", "isoprene, (Pajunoja et al. 2015)"], "range": [22, 155, 260]}
            }
          }
        },
        {
          "data": {"name": "ref"},
          "mark": {"type": "point", "opacity": 0},
          "encoding": {
            "x": {"field": "rh", "type": "quantitative", "scale": {"domain": [30, 100], "nice": false, "zero": false},
              "axis": {"orient": "top", "values": [40, 50, 60, 70, 80, 90], "labels": false, "title": null}},
            "y": {"field": "bf", "type": "quantitative", "scale": {"domain": [0, 1], "nice": false},
              "axis": {"orient": "right", "values": [0.2, 0.4, 0.6, 0.8], "labels": false, "title": null}}
          }
        }
      ],
      "resolve": {"axis": {"x": "independent", "y": "independent"}}
    },
    {
      "width": 336,
      "height": 309,
      "view": {"stroke": null},
      "layer": [
        {
          "data": {"name": "t_hist"},
          "mark": {"type": "bar", "stroke": "#ff0000", "strokeWidth": 1.5},
          "encoding": {
            "x": {
              "field": "t0", "type": "quantitative",
              "scale": {"domain": [18, 34], "nice": false, "zero": false},
              "axis": {"orient": "top", "offset": -42, "values": [18, 22, 26, 30, 34], "title": "T(ambient,ºC)", "labelFontSize": 17, "labelPadding": 6, "titleFontSize": 20, "titlePadding": 4}
            },
            "x2": {"field": "t1"},
            "y": {
              "field": "n", "type": "quantitative",
              "scale": {"domain": [-86.5, 550], "nice": false, "zero": false, "reverse": true},
              "axis": {"orient": "right", "values": [50, 150, 250, 350, 450], "labels": false, "title": null}
            },
            "y2": {"datum": 0},
            "fill": {"field": "band", "type": "nominal", "scale": {"domain": ["outer", "mid"], "range": ["#ffccc8", "#ff99c2"]}, "legend": null}
          }
        },
        {
          "data": {"name": "rh_hist"},
          "mark": {"type": "bar", "stroke": "#0000ff", "strokeWidth": 1.5},
          "encoding": {
            "x": {
              "field": "r0", "type": "quantitative",
              "scale": {"domain": [20, 100], "nice": false, "zero": false},
              "axis": {"orient": "bottom", "values": [20, 40, 60, 80, 100], "title": "RH (ambient, %)", "labelFontSize": 17, "labelPadding": 5, "titleFontSize": 20, "titlePadding": 6}
            },
            "x2": {"field": "r1"},
            "y": {
              "field": "n", "type": "quantitative",
              "scale": {"domain": [0, 636.5], "nice": false},
              "axis": {"orient": "left", "values": [100, 200, 300, 400, 500], "labels": false, "title": "frequency of observations", "titleFontSize": 18, "titlePadding": 4, "titleY": 175.5}
            },
            "y2": {"datum": 0},
            "fill": {"field": "band", "type": "nominal", "scale": {"domain": ["outer", "mid"], "range": ["#d6e4ff", "#44e6ff"]}, "legend": null}
          }
        },
        {
          "data": {"values": [{}]},
          "mark": {"type": "rect", "fill": null, "fillOpacity": 0, "stroke": "#000000", "strokeWidth": 1.6},
          "encoding": {
            "x": {"datum": 20, "type": "quantitative", "scale": {"domain": [20, 100], "nice": false, "zero": false}, "axis": null},
            "x2": {"datum": 100},
            "y": {"datum": 0, "type": "quantitative", "scale": {"domain": [0, 636.5], "nice": false}, "axis": null},
            "y2": {"datum": 550}
          }
        }
      ],
      "resolve": {"scale": {"x": "independent", "y": "independent", "fill": "independent"}}
    }
  ]
}
